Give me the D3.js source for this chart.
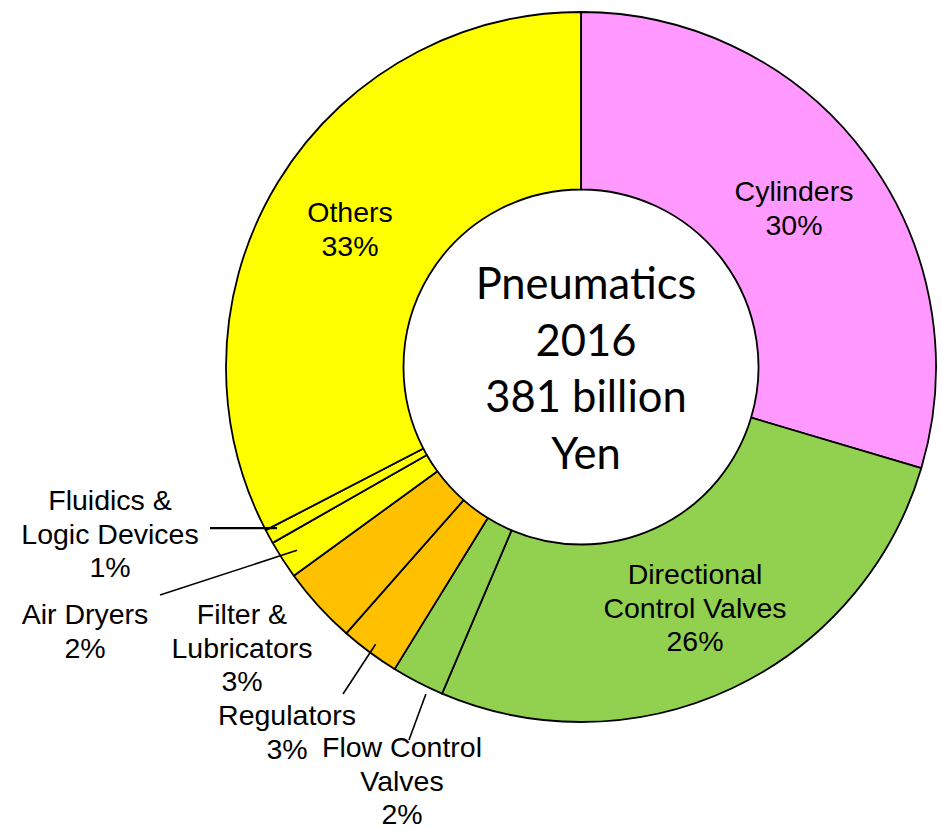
<!DOCTYPE html>
<html lang="en">
<head>
  <meta charset="UTF-8">
  <title>Pneumatics 2016</title>
  <script src="https://d3js.org/d3.v7.min.js"></script>
  <style>
    body { margin: 0; background: #fff; }
    svg { display: block; }
    .lbl { font-family: "Liberation Sans", Arial, sans-serif; font-size: 28.5px; fill: #000; }
    .center { font-family: Lato, "Open Sans", sans-serif; font-size: 43.5px; fill: #000; }
  </style>
</head>
<body>
<svg id="chart" width="942" height="830"></svg>
<script>
  // slice data, clockwise from 12 o'clock
  const categories = ["Cylinders", "Directional Control Valves", "Flow Control Valves", "Regulators",
                      "Filter & Lubricators", "Air Dryers", "Fluidics & Logic Devices", "Others"];
  const values = [29.6, 26.8, 2.4, 2.7, 3.5, 1.75, 0.65, 32.6];
  const percentLabels = ["30%", "26%", "2%", "3%", "3%", "2%", "1%", "33%"];
  const labelLines = [
    ["Cylinders"],
    ["Directional", "Control Valves"],
    ["Flow Control", "Valves"],
    ["Regulators"],
    ["Filter &", "Lubricators"],
    ["Air Dryers"],
    ["Fluidics &", "Logic Devices"],
    ["Others"]
  ];
  const centerLines = ["Pneumatics", "2016", "381 billion", "Yen"];

  const colors = ["#FF99FF", "#92D050", "#92D050", "#FFC000", "#FFC000", "#FFFF00", "#FFFF00", "#FFFF00"];

  // label placement (first baseline) and leader lines
  const labelPos = [
    { x: 794, y: 201 },
    { x: 695, y: 584 },
    { x: 402, y: 757 },
    { x: 287, y: 725 },
    { x: 242, y: 624 },
    { x: 85,  y: 624 },
    { x: 110, y: 510 },
    { x: 350, y: 222 }
  ];
  // t = position across the slice (0 start, 1 end), r = radius of the slice end of the line
  const leaders = {
    2: { t: 0.27, r: 362, end: [409, 740] },
    3: { t: 0.5,  r: 345, end: [343, 694] },
    5: { t: 0.5,  r: 338, end: [160, 595] },
    6: { t: 0.75, r: 344, end: [210, null] }   // horizontal
  };

  const cx = 581, cy = 367, R = 355, r0 = 177.5;
  const lineH = 33.5;

  const svg = d3.select("#chart");
  const g = svg.append("g").attr("transform", `translate(${cx},${cy})`);

  const pie = d3.pie().sort(null).value(d => d);
  const arcs = pie(values);
  const arc = d3.arc().innerRadius(r0).outerRadius(R);

  g.selectAll("path.slice")
    .data(arcs)
    .enter().append("path")
    .attr("class", "slice")
    .attr("d", arc)
    .attr("fill", (d, i) => colors[i])
    .attr("stroke", "#000")
    .attr("stroke-width", 1.8)
    .attr("stroke-linejoin", "round");

  // leader lines
  Object.entries(leaders).forEach(([i, l]) => {
    const a = arcs[i].startAngle + l.t * (arcs[i].endAngle - arcs[i].startAngle);
    const x1 = cx + l.r * Math.sin(a);
    const y1 = cy - l.r * Math.cos(a);
    svg.append("line")
      .attr("x1", x1)
      .attr("y1", y1)
      .attr("x2", l.end[0])
      .attr("y2", l.end[1] == null ? y1 : l.end[1])
      .attr("stroke", "#000")
      .attr("stroke-width", i == 6 ? 2.2 : 1.6);
  });

  // category labels
  categories.forEach((c, i) => {
    const lines = labelLines[i].concat([percentLabels[i]]);
    const t = svg.append("text")
      .attr("class", "lbl")
      .attr("text-anchor", "middle");
    lines.forEach((s, k) => {
      t.append("tspan")
        .attr("x", labelPos[i].x)
        .attr("y", labelPos[i].y + k * lineH)
        .text(s);
    });
  });

  // centre text
  const ct = svg.append("text").attr("class", "center").attr("text-anchor", "middle");
  centerLines.forEach((s, k) => {
    ct.append("tspan")
      .attr("x", cx + 5)
      .attr("y", 299 + k * 56.5)
      .text(s);
  });
</script>
</body>
</html>
